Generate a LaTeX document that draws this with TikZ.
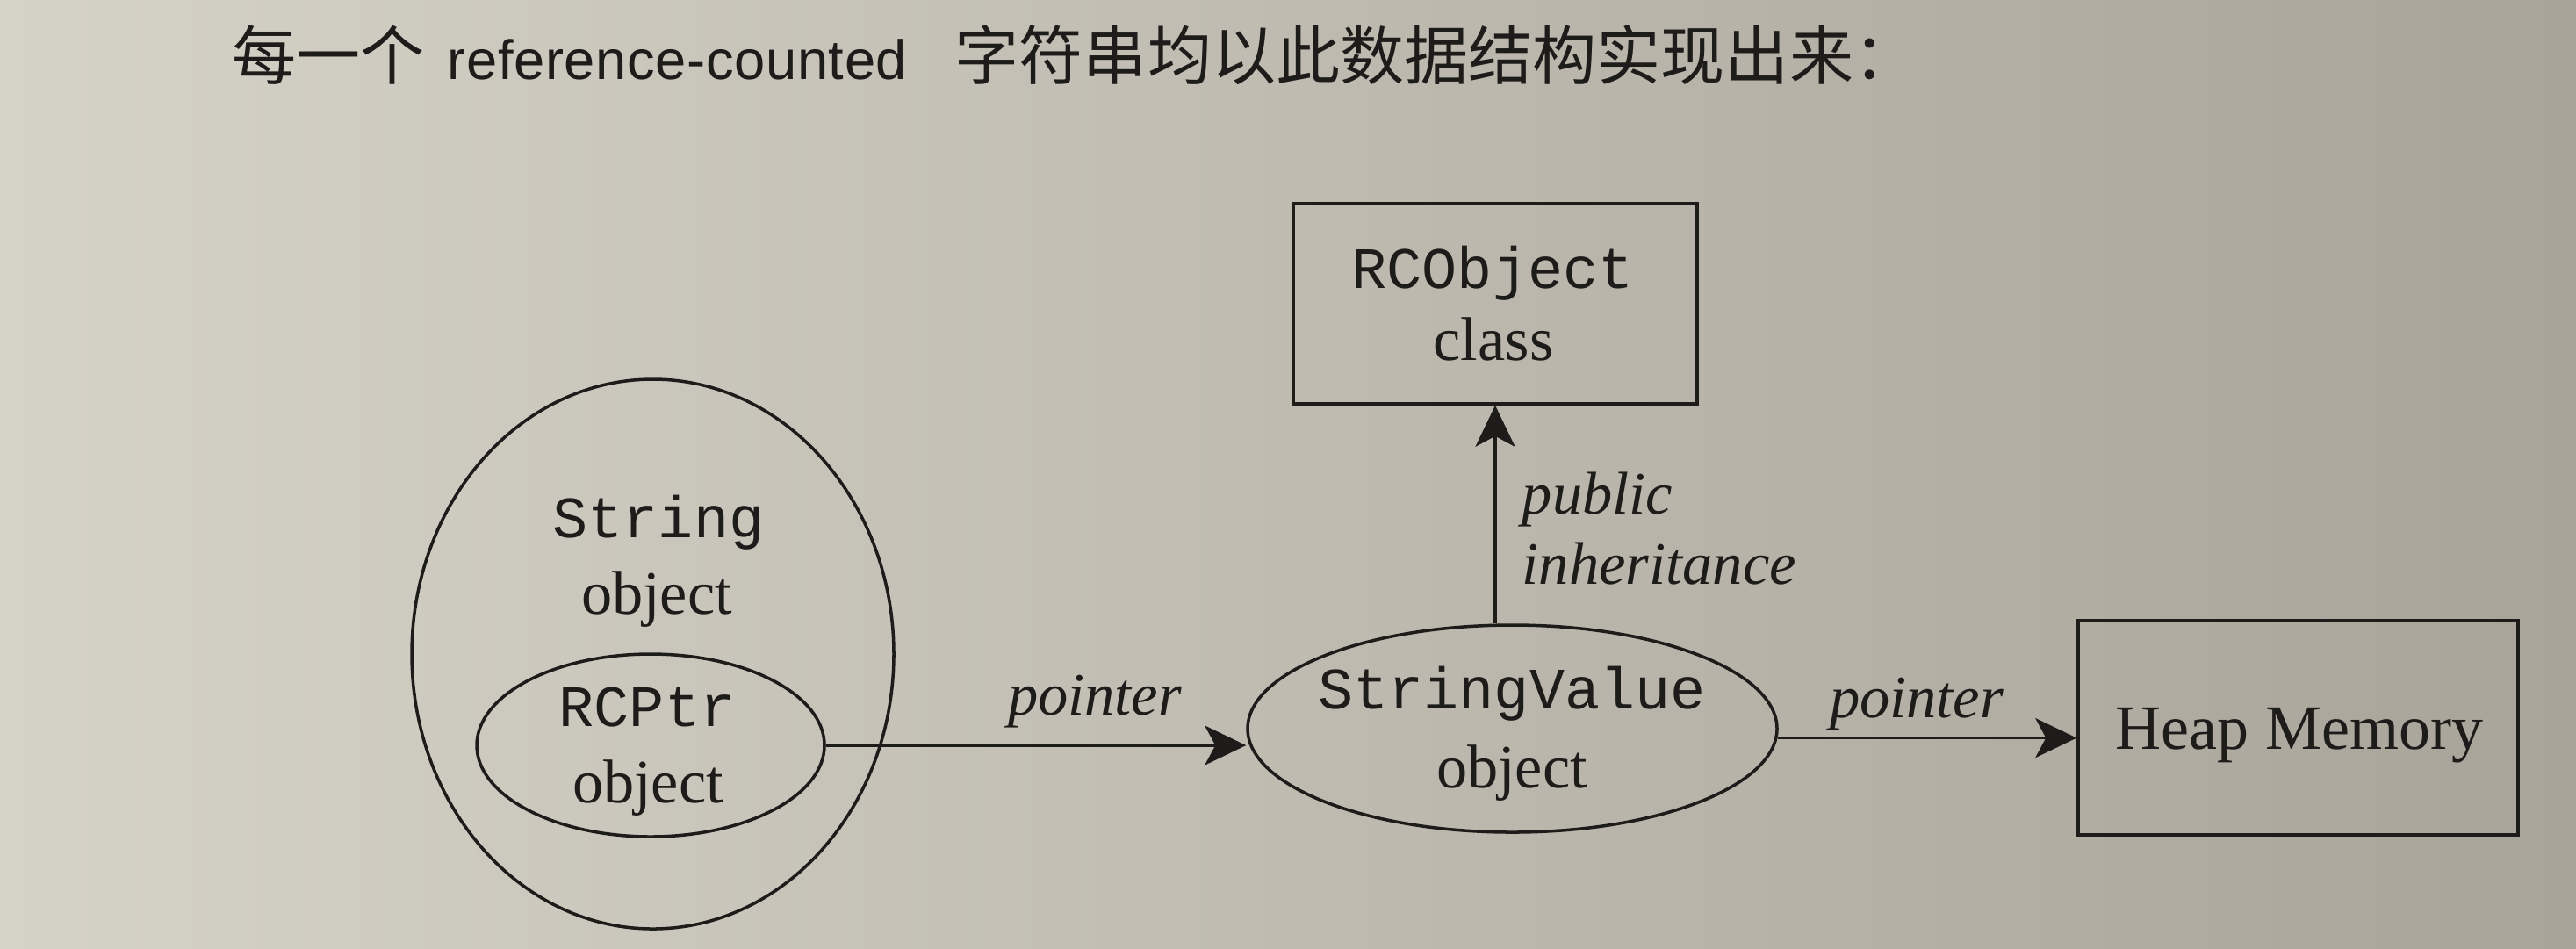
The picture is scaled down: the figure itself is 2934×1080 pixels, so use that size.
\documentclass[tikz,border=0pt]{standalone}
\usepackage{fontspec}
\setmainfont{Liberation Serif}
\setmonofont{Liberation Mono}
\newfontfamily\cjkfont{Noto Sans CJK SC}
\newfontfamily\latsans[LetterSpace=1]{Liberation Sans}
\usetikzlibrary{arrows.meta,shapes.geometric}
\definecolor{ink}{HTML}{1E1C1A}
\definecolor{paperL}{HTML}{D5D2C8}
\definecolor{paperM}{HTML}{C0BBB1}
\definecolor{paperR}{HTML}{A9A49A}
\begin{document}
\begin{tikzpicture}[x=0.1mm,y=-0.1mm,
  shapeline/.style={draw=ink, line width=1pt},
  oval/.style={shapeline, ellipse, inner sep=0pt},
  boxnode/.style={shapeline, rectangle, inner sep=0pt},
  txt/.style={inner sep=0pt, anchor=base, text=ink},
  mono/.style={txt, font=\fontsize{19}{23}\selectfont\ttfamily},
  serif/.style={txt, font=\fontsize{20}{24}\selectfont},
  ital/.style={txt, font=\fontsize{19.5}{24}\selectfont\itshape},
  conn/.style={draw=ink, line width=1pt, -{Stealth[length=4.7mm,width=4.5mm,inset=1.2mm]}},
  cjktitle/.style={txt, anchor=base west, font=\fontsize{20.8}{25}\selectfont\cjkfont},
]
\useasboundingbox (0,0) rectangle (2934,1080);
\shade[left color=paperL, middle color=paperM, right color=paperR] (0,0) rectangle (2934,1080);

% title
\node[cjktitle] (title1) at (264,90) {每一个};
\node[txt, anchor=base west, font=\fontsize{18}{22}\selectfont\latsans] (title2) at (509,90) {reference-counted};
\node[cjktitle] (title3) at (1087,90) {字符串均以此数据结构实现出来：};

% shapes
\node[oval, minimum width=54.9mm, minimum height=62.6mm] (strobj) at (743.5,745) {};
\node[oval, minimum width=39.6mm, minimum height=20.8mm] (rcptr) at (741,849) {};
\node[oval, minimum width=60.3mm, minimum height=23.6mm] (sv) at (1722.5,830) {};
\node[boxnode, minimum width=46mm, minimum height=22.8mm] (rc) at (1703,346) {};
\node[boxnode, minimum width=50.1mm, minimum height=24.4mm] (heap) at (2617.5,829) {};

% texts
\node[mono] (tString) at (750,612) {String};
\node[serif] (tObj1) at (748,699) {object};
\node[mono] (tRCPtr) at (737,827) {RCPtr};
\node[serif] (tObj2) at (738,914) {object};
\node[mono] (tRCObj) at (1700,328) {RCObject};
\node[serif] (tClass) at (1701,410) {class};
\node[mono] (tSV) at (1722,807) {StringValue};
\node[serif] (tObj3) at (1722,897) {object};
\node[serif, font=\fontsize{20.5}{24}\selectfont] (tHeap) at (2619,853) {Heap Memory};
\node[ital, anchor=base west] (tPublic) at (1733,585) {public};
\node[ital, anchor=base west] (tInh) at (1733,665) {inheritance};
\node[ital] (tPtr1) at (1247,814) {pointer};
\node[ital] (tPtr2) at (2183,817) {pointer};

% connectors
\draw[conn] (rcptr.east) -- (rcptr.east -| sv.west);
\draw[conn] (sv.-2.3) -- (sv.-2.3 -| heap.west);
\draw[conn] (sv.north -| rc.south) -- (rc.south);
\end{tikzpicture}
\end{document}
